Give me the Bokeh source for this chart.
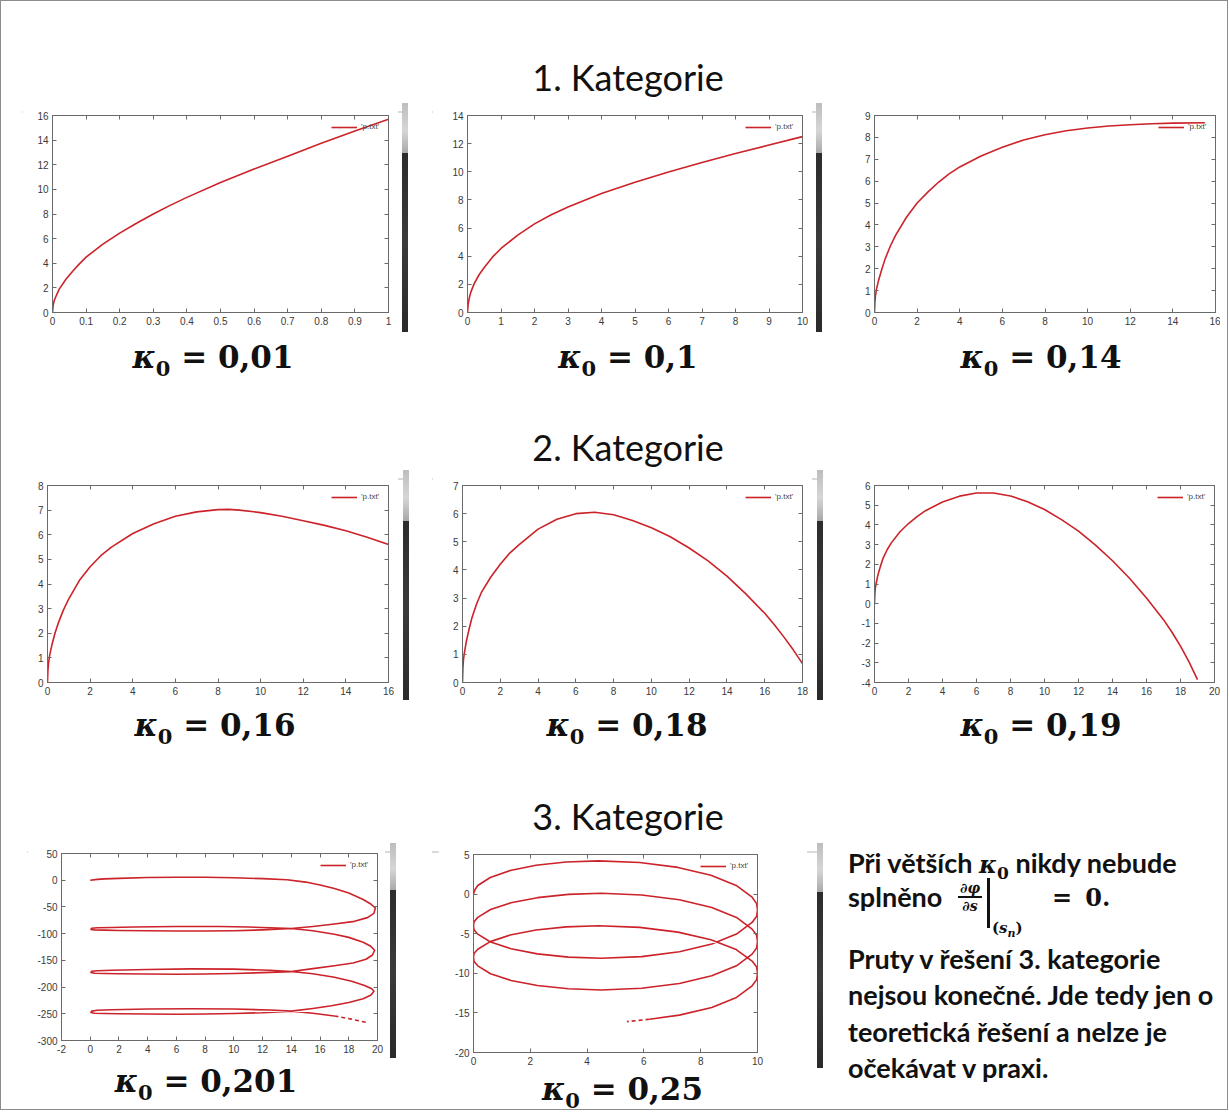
from bokeh.plotting import figure
from bokeh.models import (Range1d, LinearAxis, FixedTicker, PrintfTickFormatter,
                          CustomJSTickFormatter, Div, Spacer, Legend, LegendItem)
from bokeh.layouts import row, column
from bokeh.embed import file_html
from bokeh.resources import INLINE

# ---------------------------------------------------------------- data
titles = ["1. Kategorie", "2. Kategorie", "3. Kategorie"]
kappa_labels = ["0,01", "0,1", "0,14", "0,16", "0,18", "0,19", "0,201", "0,25"]
legend_label = "'p.txt'"

# kappa0 = 0.01
k001_x = [0, 0.002, 0.005, 0.01, 0.02, 0.04, 0.06, 0.08, 0.1, 0.15, 0.2, 0.25, 0.3, 0.35,
          0.4, 0.5, 0.6, 0.7, 0.8, 0.9, 1.0]
k001_y = [0, 0.6, 0.95, 1.3, 1.9, 2.7, 3.35, 3.95, 4.5, 5.55, 6.45, 7.25, 8.0, 8.7,
          9.35, 10.55, 11.65, 12.7, 13.75, 14.75, 15.7]
# kappa0 = 0.1
k01_x = [0, 0.02, 0.05, 0.1, 0.2, 0.35, 0.5, 0.75, 1, 1.5, 2, 2.5, 3, 4, 5, 6, 7, 8, 9, 10]
k01_y = [0, 0.6, 1.0, 1.45, 2.05, 2.7, 3.2, 3.95, 4.55, 5.5, 6.3, 6.95, 7.5, 8.45,
         9.25, 9.98, 10.66, 11.3, 11.9, 12.5]
# kappa0 = 0.14
k014_x = [0, 0.02, 0.05, 0.1, 0.2, 0.35, 0.5, 0.75, 1, 1.5, 2, 2.5, 3, 3.5, 4, 5, 6, 7, 8,
          9, 10, 11, 12, 13, 14, 15.5]
k014_y = [0, 0.5, 0.8, 1.1, 1.5, 2.0, 2.45, 3.05, 3.55, 4.35, 5.0, 5.5, 5.95, 6.33, 6.65,
          7.15, 7.55, 7.88, 8.12, 8.3, 8.43, 8.52, 8.58, 8.62, 8.65, 8.67]
# kappa0 = 0.16
k016_x = [0, 0.02, 0.05, 0.1, 0.2, 0.35, 0.5, 0.75, 1, 1.5, 2, 2.5, 3, 4, 5, 6, 7, 8,
          8.5, 9, 10, 11, 12, 13, 14, 15, 16]
k016_y = [0, 0.5, 0.8, 1.1, 1.5, 2.0, 2.4, 2.95, 3.4, 4.15, 4.7, 5.15, 5.5, 6.05, 6.45,
          6.75, 6.93, 7.02, 7.03, 7.0, 6.9, 6.75, 6.57, 6.38, 6.16, 5.9, 5.6]
# kappa0 = 0.18
k018_x = [0, 0.02, 0.05, 0.1, 0.2, 0.35, 0.5, 0.75, 1, 1.5, 2, 2.5, 3, 4, 5, 6, 7, 8,
          9, 10, 11, 12, 13, 14, 15, 16, 16.5, 17, 17.5, 18]
k018_y = [0, 0.5, 0.8, 1.05, 1.45, 1.9, 2.3, 2.8, 3.2, 3.75, 4.2, 4.6, 4.9, 5.45, 5.8,
          6.0, 6.05, 5.96, 5.76, 5.5, 5.18, 4.78, 4.32, 3.78, 3.15, 2.46, 2.06, 1.63, 1.17,
          0.67]
# kappa0 = 0.19
k019_x = [0, 0.02, 0.05, 0.1, 0.2, 0.35, 0.5, 0.75, 1, 1.5, 2, 2.5, 3, 4, 5, 6, 7, 8,
          9, 10, 11, 12, 13, 14, 15, 16, 17, 17.5, 18, 18.5, 19]
k019_y = [0, 0.5, 0.8, 1.05, 1.45, 1.9, 2.3, 2.75, 3.1, 3.65, 4.07, 4.42, 4.72, 5.16,
          5.46, 5.62, 5.62, 5.47, 5.18, 4.78, 4.27, 3.68, 2.97, 2.18, 1.29, 0.29, -0.81,
          -1.45, -2.15, -2.95, -3.85]
# kappa0 = 0.201
k0201_x = [0, 0.5, 1, 2, 4, 6, 8, 10, 12, 13.7, 15, 16, 17, 18, 19, 19.5, 19.85,
           19.75, 19.3, 18.4, 17, 15.5, 14, 12, 10, 8, 6, 4, 2, 1, 0.3, 0.05, 0.1, 0.5,
           1.5, 3, 6, 9, 11, 12.5, 14,
           15.5, 17, 18, 19, 19.5, 19.8,
           19.65, 19.2, 18.3, 17, 15.5, 14, 12, 10, 8, 6, 4, 2, 1, 0.3, 0.05, 0.1, 0.5,
           1.5, 4, 7, 10, 12.5, 14,
           15.5, 17, 18.2, 19.1, 19.6, 19.75,
           19.55, 19.0, 18.0, 16.8, 15.5, 14, 12, 10, 8, 6, 4, 2, 1, 0.3, 0.05, 0.1, 0.5,
           1.5, 4, 7, 10, 12.5, 14, 15.5, 17]
k0201_y = [0, 1.5, 2.5, 3.5, 5, 5.5, 5.5, 4.5, 3, 1, -3.5, -9, -15.5, -24, -36, -44, -52,
           -62, -70, -77, -82, -86.5, -90.5, -93, -94.5, -95, -95, -94.5, -94, -93.5, -93,
           -92, -90, -89, -88.5, -87.5, -86.5, -86.5, -87.5, -89, -90.5,
           -94.5, -101, -107, -116, -123, -131,
           -140, -148, -155, -160, -165.5, -171, -173, -174.5, -175.5, -176, -175.5, -175,
           -174.5, -174, -172.5, -170.5, -169.5, -168.5, -167, -166, -166.5, -168.5, -171,
           -175, -181.5, -189, -197, -203, -208,
           -215, -222, -229, -235, -240, -245, -248, -249.5, -250.5, -251, -250.5, -250,
           -249.5, -249, -247.5, -245, -243.5, -242.5, -241, -240.5, -241, -243, -245,
           -249, -254]
k0201_tail_x = [17, 18, 19.2]
k0201_tail_y = [-254, -259, -266]
# kappa0 = 0.25
k025_x = [0, 0.05, 0.15, 0.59, 1.29, 2.2, 3.26, 4.4, 5.85, 7.2, 8.36, 9.25, 9.81, 9.97, 10,
          9.97, 9.81, 9.26, 8.39, 7.25, 5.92, 4.5, 3.34, 2.25, 1.32, 0.6, 0.15, 0.02, 0,
          0.02, 0.15, 0.6, 1.32, 2.25, 3.34, 4.5, 5.92, 7.25, 8.39, 9.26, 9.81, 9.97, 10,
          9.97, 9.81, 9.26, 8.39, 7.25, 5.92, 4.5, 3.34, 2.25, 1.32, 0.6, 0.15, 0.02, 0,
          0.02, 0.15, 0.59, 1.29, 2.2, 3.26, 4.4, 5.85, 7.2, 8.36, 9.25, 9.81, 9.97, 10,
          9.97, 9.81, 9.26, 8.39, 7.25, 6.2]
k025_y = [0, 0.55, 1.09, 2.1, 2.97, 3.64, 4.06, 4.2, 3.99, 3.37, 2.38, 1.1, -0.39, -1.2, -2,
          -2.8, -3.58, -5.05, -6.31, -7.28, -7.89, -8.1, -7.96, -7.55, -6.9, -6.05, -5.06,
          -4.5, -4,
          -3.5, -2.94, -1.95, -1.1, -0.45, -0.04, 0.1, -0.11, -0.72, -1.69, -2.95, -4.42,
          -5.2, -6,
          -6.8, -7.58, -9.05, -10.31, -11.28, -11.89, -12.1, -11.96, -11.55, -10.9, -10.05,
          -9.06, -8.5, -8,
          -7.5, -6.96, -6, -5.17, -4.54, -4.14, -4, -4.2, -4.8, -5.76, -7, -8.45, -9.2, -10,
          -10.8, -11.58, -13.05, -14.31, -15.28, -15.8]
k025_tail_x = [6.2, 5.4]
k025_tail_y = [-15.8, -16.1]

note_lines = ["Při větších {k} nikdy nebude", "splněno",
              "Pruty v řešení 3. kategorie", "nejsou konečné. Jde tedy jen o",
              "teoretická řešení a nelze je", "očekávat v praxi."]

# ticks
t_x1 = [0, 0.1, 0.2, 0.3, 0.4, 0.5, 0.6, 0.7, 0.8, 0.9, 1]
t_y1 = [0, 2, 4, 6, 8, 10, 12, 14, 16]
t_x2 = [0, 1, 2, 3, 4, 5, 6, 7, 8, 9, 10]
t_y2 = [0, 2, 4, 6, 8, 10, 12, 14]
t_x3 = [0, 2, 4, 6, 8, 10, 12, 14, 16]
t_y3 = [0, 1, 2, 3, 4, 5, 6, 7, 8, 9]
t_x4 = [0, 2, 4, 6, 8, 10, 12, 14, 16]
t_y4 = [0, 1, 2, 3, 4, 5, 6, 7, 8]
t_x5 = [0, 2, 4, 6, 8, 10, 12, 14, 16, 18]
t_y5 = [0, 1, 2, 3, 4, 5, 6, 7]
t_x6 = [0, 2, 4, 6, 8, 10, 12, 14, 16, 18, 20]
t_y6 = [-4, -3, -2, -1, 0, 1, 2, 3, 4, 5, 6]
t_x7 = [-2, 0, 2, 4, 6, 8, 10, 12, 14, 16, 18, 20]
t_y7 = [-300, -250, -200, -150, -100, -50, 0, 50]
t_x8 = [0, 2, 4, 6, 8, 10]
t_y8 = [-20, -15, -10, -5, 0, 5]

# ---------------------------------------------------------------- style
CURVE = "#cc2229"
FRAME = "#6a6a6a"
TICKFONT = "Liberation Sans"


def make_panel(xs, ys, xr, yr, xt, yt, geom, tail=None):
    bl, fw, br, bt, fh, bb = geom
    p = figure(width=bl + fw + br, height=bt + fh + bb,
               x_range=Range1d(*xr), y_range=Range1d(*yr),
               x_axis_type=None, y_axis_type=None,
               output_backend="svg", toolbar_location=None,
               min_border_left=bl, min_border_right=br,
               min_border_top=bt, min_border_bottom=bb)
    p.outline_line_color = FRAME
    p.outline_line_width = 1
    p.background_fill_color = "white"
    p.border_fill_color = "white"
    for loc, ticks, show in (("below", xt, True), ("left", yt, True),
                             ("above", xt, False), ("right", yt, False)):
        ax = LinearAxis(ticker=FixedTicker(ticks=ticks))
        ax.axis_line_color = FRAME
        ax.major_tick_line_color = FRAME
        ax.major_tick_in = 4
        ax.major_tick_out = 0
        ax.minor_tick_line_color = None
        if show:
            ax.formatter = PrintfTickFormatter(format="%g")
            ax.major_label_text_font = TICKFONT
            ax.major_label_text_font_size = "10px"
            ax.major_label_text_color = "#3a3a3a"
            ax.major_label_standoff = 4 if loc == "below" else 4
        else:
            ax.formatter = CustomJSTickFormatter(code="return ''")
            ax.major_label_standoff = 0
        p.add_layout(ax, loc)
    r = p.line(xs, ys, line_color=CURVE, line_width=1.6, line_join="round")
    if tail is not None:
        p.line(tail[0], tail[1], line_color=CURVE, line_width=1.6, line_dash="4 3")
    leg = Legend(items=[LegendItem(label=legend_label, renderers=[r])],
                 location="top_right")
    leg.background_fill_alpha = 0
    leg.border_line_alpha = 0
    leg.label_text_font = TICKFONT
    leg.label_text_font_size = "8px"
    leg.label_text_color = "#444444"
    leg.glyph_width = 26
    leg.glyph_height = 8
    leg.label_height = 8
    leg.label_standoff = 4
    leg.spacing = 0
    leg.padding = 2
    leg.margin = 5
    p.add_layout(leg)
    return p


def scrollbar(h):
    return Div(text=(f'<div style="width:6px;height:{h}px;background:linear-gradient('
                     f'to bottom,#bdbdbd 0%,#d6d6d6 12%,#a8a8a8 22%,#2c2c2c 22%,'
                     f'#3b3b3b 60%,#2a2a2a 100%)"></div>'), width=6, height=h, margin=0)


def kappa_div(val, w, h, lh, pad=0):
    html = (f'<div style="width:{w - pad}px;padding-left:{pad}px;text-align:center;'
            f'font-family:\'DejaVu Serif\',serif;font-weight:700;font-size:31px;'
            f'line-height:{lh}px;color:#111;white-space:nowrap">'
            f'<i>κ</i><span style="font-size:21px;position:relative;top:8px;'
            f'line-height:0">0</span> = {val}</div>')
    return Div(text=html, width=w, height=h, margin=0, styles={"overflow": "visible"})


def title_div(txt, h):
    html = (f'<div style="width:1000px;text-align:center;font-family:Lato,sans-serif;'
            f'font-size:36px;line-height:36px;color:#111;white-space:nowrap">{txt}</div>')
    return row(Spacer(width=128, height=h), Div(text=html, width=1000, height=h, margin=0))


def line_row(segments):
    segs = "".join(f'<div style="position:absolute;left:{a}px;width:{b - a}px;'
                   f'top:0;height:2px;background:#d9d9d9"></div>' for a, b in segments)
    return Div(text=f'<div style="position:relative;width:1220px;height:2px">{segs}</div>',
               width=1220, height=2, margin=0)


# ---------------------------------------------------------------- panels
p1 = make_panel(k001_x, k001_y, (0, 1), (0, 16), t_x1, t_y1, (30, 336, 10, 12, 198, 23))
p2 = make_panel(k01_x, k01_y, (0, 10), (0, 14), t_x2, t_y2, (35, 335, 10, 12, 198, 23))
p3 = make_panel(k014_x, k014_y, (0, 16), (0, 9), t_x3, t_y3, (28, 341, 5, 11, 198, 24))
p4 = make_panel(k016_x, k016_y, (0, 16), (0, 8), t_x4, t_y4, (27, 341, 10, 15, 197, 22))
p5 = make_panel(k018_x, k018_y, (0, 18), (0, 7), t_x5, t_y5, (30, 340, 10, 15, 197, 22))
p6 = make_panel(k019_x, k019_y, (0, 20), (-4, 6), t_x6, t_y6, (30, 340, 6, 15, 198, 21))
p7 = make_panel(k0201_x, k0201_y, (-2, 20), (-300, 50), t_x7, t_y7, (34, 316, 8, 10, 187, 20),
                tail=(k0201_tail_x, k0201_tail_y))
p8 = make_panel(k025_x, k025_y, (0, 10), (-20, 5), t_x8, t_y8, (35, 284, 50, 11, 198, 20),
                tail=(k025_tail_x, k025_tail_y))

# ---------------------------------------------------------------- note text
LATO = ("font-family:Lato,sans-serif;font-weight:700;font-size:27px;line-height:36px;"
        "color:#111;white-space:nowrap;position:absolute;left:0")
SERIF = "font-family:'DejaVu Serif',serif;font-weight:700;color:#111;position:absolute"
kap_inline = ('<span style="font-family:\'DejaVu Serif\',serif;font-style:italic;'
              'font-weight:700;font-size:24px">κ</span><span style="font-family:'
              '\'DejaVu Serif\',serif;font-weight:700;font-size:17px;position:relative;'
              'top:6px;line-height:0">0</span>')
tops = [2, 36, 98, 134, 171, 207]
parts = []
for t, ln in zip(tops, note_lines):
    parts.append(f'<div style="{LATO};top:{t}px">{ln.format(k=kap_inline)}</div>')
math = (
    f'<div style="{SERIF};left:109px;top:37px;width:26px;text-align:center;'
    f'font-style:italic;font-size:14px;line-height:16px">∂φ</div>'
    f'<div style="position:absolute;left:110px;top:53px;width:24px;height:2px;'
    f'background:#111"></div>'
    f'<div style="{SERIF};left:109px;top:55px;width:26px;text-align:center;'
    f'font-style:italic;font-size:14px;line-height:16px">∂s</div>'
    f'<div style="position:absolute;left:139px;top:35px;width:3px;height:50px;'
    f'background:#111"></div>'
    f'<div style="{SERIF};left:144px;top:76px;font-size:15px;line-height:18px;'
    f'white-space:nowrap">(<i>s</i><span style="font-size:11px;position:relative;'
    f'top:4px"><i>n</i></span>)</div>'
    f'<div style="{SERIF};left:204px;top:40px;font-size:24px;line-height:30px;'
    f'white-space:nowrap">=&#8201; 0.</div>'
)
note = Div(text=('<div style="position:relative;width:372px;height:259px">'
                 + "".join(parts) + math + '</div>'),
           width=372, height=259, margin=0, styles={"overflow": "visible"})

# ---------------------------------------------------------------- layout
row1 = row(Spacer(width=22, height=10), p1, Spacer(width=4, height=10), scrollbar(229),
           Spacer(width=24, height=10), p2, Spacer(width=4, height=10), scrollbar(229),
           Spacer(width=24, height=10), p3)
kap1 = row(kappa_div(kappa_labels[0], 426, 44, 42), kappa_div(kappa_labels[1], 404, 44, 42),
           Spacer(width=31, height=44), kappa_div(kappa_labels[2], 360, 44, 42))
row2 = row(Spacer(width=20, height=10), p4, Spacer(width=5, height=10), scrollbar(230),
           Spacer(width=23, height=10), p5, Spacer(width=5, height=10), scrollbar(230),
           Spacer(width=21, height=10), p6)
kap2 = row(kappa_div(kappa_labels[3], 430, 44, 42), kappa_div(kappa_labels[4], 394, 44, 42),
           Spacer(width=37, height=44), kappa_div(kappa_labels[5], 360, 44, 42))
col7 = column(p7, kappa_div(kappa_labels[6], 358, 42, 42, pad=14))
col8 = column(p8, kappa_div(kappa_labels[7], 369, 30, 34, pad=7))
row3 = row(Spacer(width=27, height=10), col7, Spacer(width=5, height=10), scrollbar(215),
           Spacer(width=42, height=10), col8, Spacer(width=10, height=10), scrollbar(225),
           Spacer(width=25, height=10), note)

layout = column(
    Spacer(width=10, height=59),
    title_div(titles[0], 42),
    line_row([(22, 402), (432, 816), (853, 1220)]),
    row1, kap1,
    Spacer(width=10, height=49),
    title_div(titles[1], 39),
    line_row([(22, 403), (432, 817), (852, 1220)]),
    row2, kap2,
    Spacer(width=10, height=50),
    title_div(titles[2], 43),
    line_row([(27, 390), (432, 817)]),
    row3,
    width=1228, height=1110,
    styles={"outline": "1px solid #8c8c8c", "outline-offset": "-1px"},
)

open("out.html", "w").write(file_html(layout, INLINE))
